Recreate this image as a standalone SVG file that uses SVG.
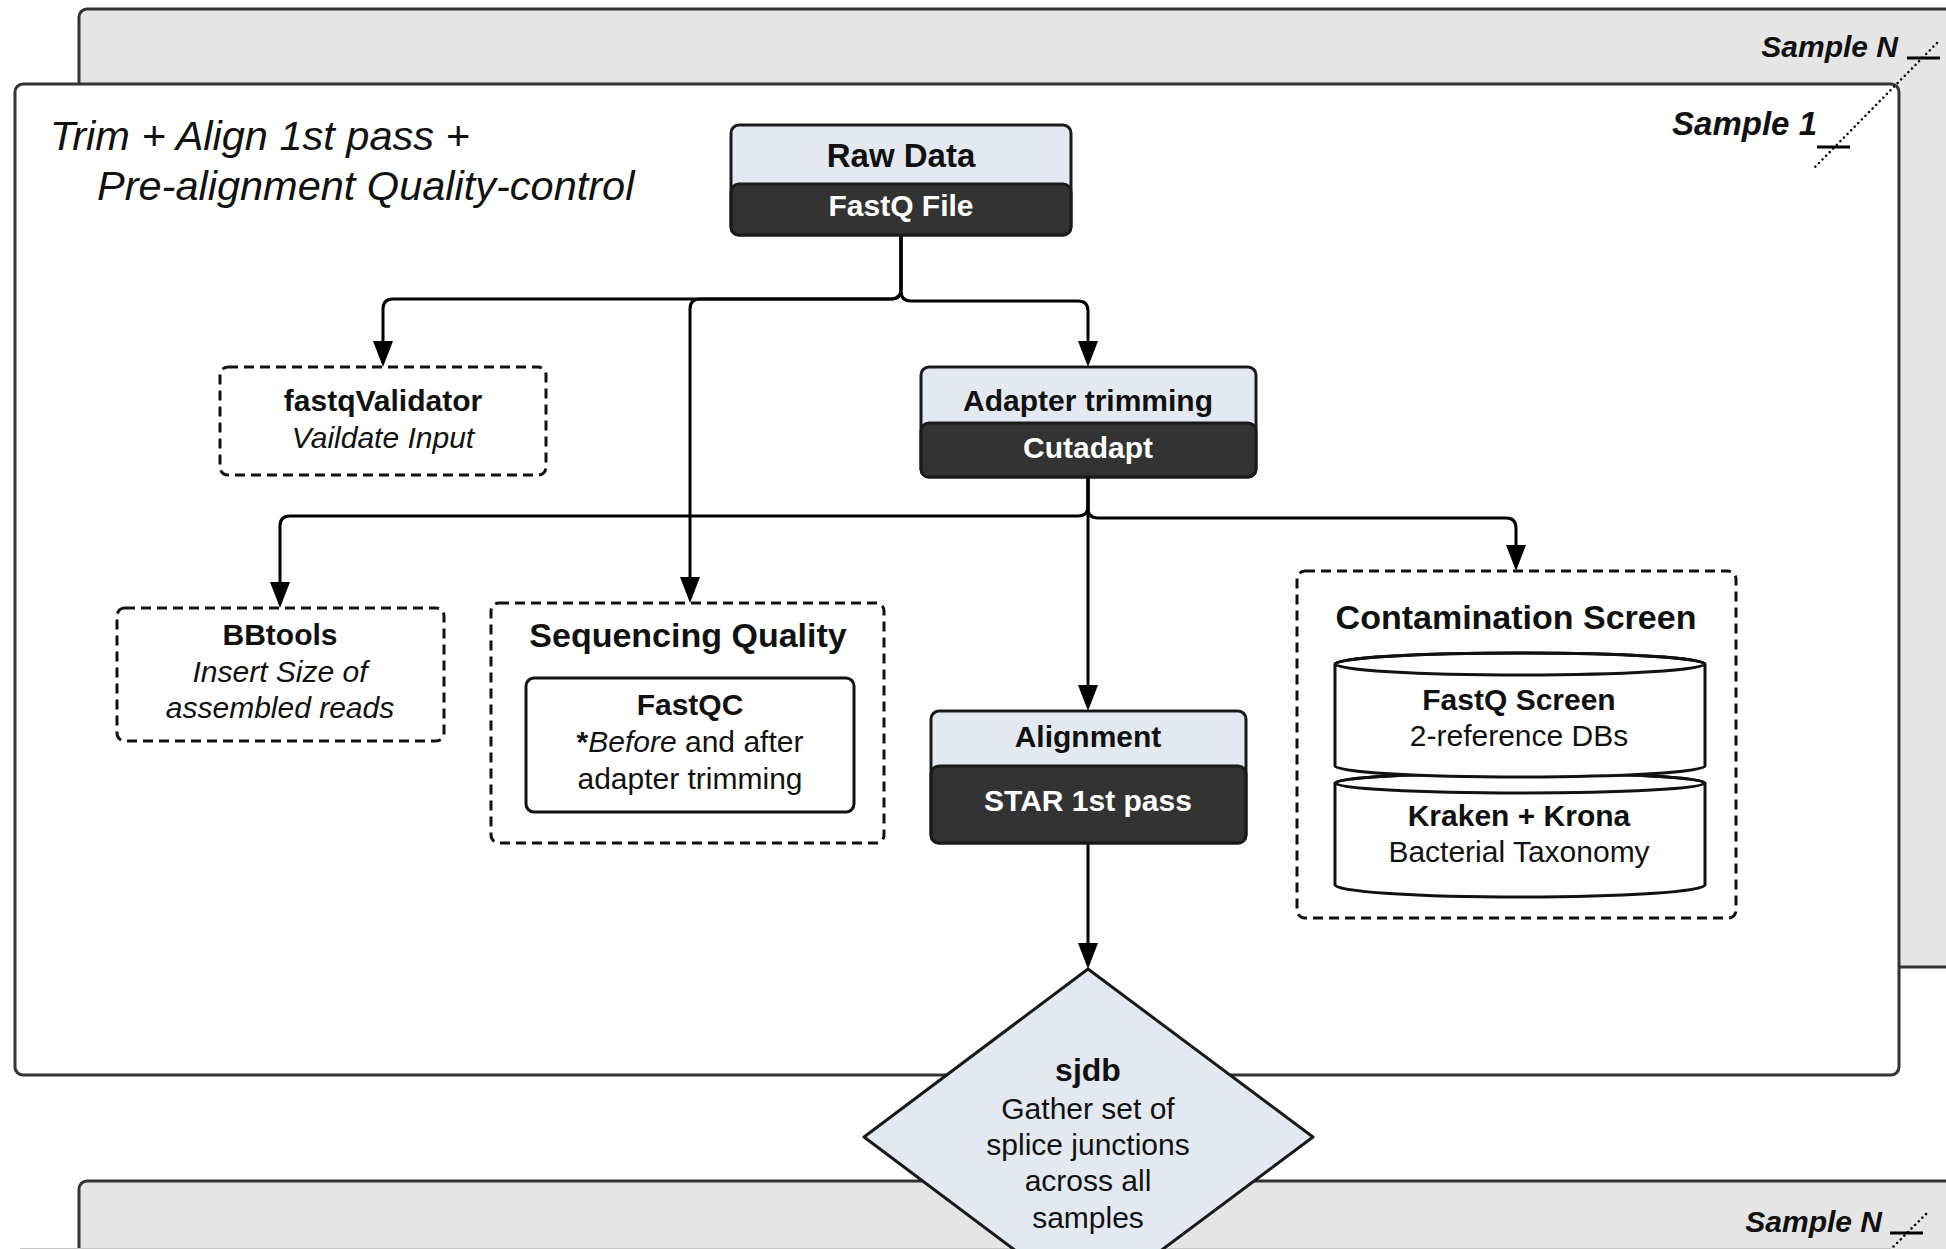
<svg xmlns="http://www.w3.org/2000/svg" width="1946" height="1249" viewBox="0 0 1946 1249">
<defs>
<style>
text{font-family:"Liberation Sans",Arial,sans-serif;fill:#111}
.t30{font-size:30px}
.b{font-weight:bold}
.i{font-style:italic}
.w{fill:#fff}
.panel{fill:#e5e5e5;stroke:#333;stroke-width:3}
.light{fill:#e4e8f0;stroke:#1a1a1a;stroke-width:3}
.dark{fill:#333;stroke:#1a1a1a;stroke-width:3}
.dash{fill:#fff;stroke:#111;stroke-width:3;stroke-dasharray:10 6}
.solid{fill:#fff;stroke:#111;stroke-width:3}
.conn{fill:none;stroke:#000;stroke-width:3}
.dot{fill:none;stroke:#000;stroke-width:2.5;stroke-dasharray:0.1 5;stroke-linecap:round}
.ul{stroke:#000;stroke-width:3}
</style>
<marker id="arr" markerUnits="userSpaceOnUse" markerWidth="26" markerHeight="20" refX="6" refY="10" orient="auto">
<path d="M0,0 L26,10 L0,20 Z" fill="#000"/>
</marker>
</defs>
<rect width="1946" height="1249" fill="#fff"/>

<g id="panel-sampleN-top">
<rect class="panel" x="79" y="9" width="1900" height="958" rx="8"/>
<text class="b i" x="1898" y="57" font-size="30" text-anchor="end">Sample N</text>
<line class="ul" x1="1907" y1="58" x2="1940" y2="58"/>
</g>

<g id="panel-sampleN-bottom">
<rect class="panel" x="79" y="1181" width="1900" height="200" rx="8"/>
<line x1="20" y1="1248.5" x2="1890" y2="1248.5" stroke="#c8c8c8" stroke-width="1"/>
<text class="b i" x="1882" y="1232" font-size="30" text-anchor="end">Sample N</text>
<line class="ul" x1="1890" y1="1233" x2="1923" y2="1233"/>
<line class="dot" x1="1926" y1="1214" x2="1886" y2="1254"/>
</g>

<g id="panel-sample1">
<rect x="15" y="84" width="1884" height="991" rx="8" fill="#fff" stroke="#333" stroke-width="3"/>
<text class="i" x="50" y="150" font-size="41.5">Trim + Align 1st pass +</text>
<text class="i" x="97" y="200" font-size="41.5">Pre-alignment Quality-control</text>
<text class="b i" x="1817" y="135" font-size="33" text-anchor="end">Sample 1</text>
<line class="ul" x1="1817" y1="147" x2="1850" y2="147"/>
<line class="dot" x1="1937" y1="43" x2="1814" y2="168"/>
</g>

<g id="connectors">
<path class="conn" d="M901,235 V289 Q901,299 891,299 H393 Q383,299 383,309 V347" marker-end="url(#arr)"/>
<path class="conn" d="M901,235 V289 Q901,299 891,299 H700 Q690,299 690,309 V583" marker-end="url(#arr)"/>
<path class="conn" d="M901,235 V291 Q901,301 911,301 H1078 Q1088,301 1088,311 V347" marker-end="url(#arr)"/>
<path class="conn" d="M1088,477 V506 Q1088,516 1078,516 H290 Q280,516 280,526 V588" marker-end="url(#arr)"/>
<path class="conn" d="M1088,477 V691" marker-end="url(#arr)"/>
<path class="conn" d="M1088,477 V508 Q1088,518 1098,518 H1506 Q1516,518 1516,528 V551" marker-end="url(#arr)"/>
<path class="conn" d="M1088,843 V949" marker-end="url(#arr)"/>
</g>

<g id="node-rawdata">
<rect class="light" x="731" y="125" width="340" height="110" rx="8"/>
<rect class="dark" x="731" y="184" width="340" height="51" rx="8"/>
<text class="b" x="901" y="167" font-size="33" text-anchor="middle">Raw Data</text>
<text class="b w t30" x="901" y="216" text-anchor="middle">FastQ File</text>
</g>

<g id="node-fastqvalidator">
<rect class="dash" x="220" y="367" width="326" height="108" rx="8"/>
<text class="b t30" x="383" y="411" text-anchor="middle">fastqValidator</text>
<text class="i t30" x="383" y="448" text-anchor="middle">Vaildate Input</text>
</g>

<g id="node-adapter">
<rect class="light" x="921" y="367" width="335" height="110" rx="8"/>
<rect class="dark" x="921" y="423" width="335" height="54" rx="8"/>
<text class="b t30" x="1088" y="411" text-anchor="middle">Adapter trimming</text>
<text class="b w t30" x="1088" y="458" text-anchor="middle">Cutadapt</text>
</g>

<g id="node-bbtools">
<rect class="dash" x="117" y="608" width="327" height="133" rx="8"/>
<text class="b t30" x="280" y="645" text-anchor="middle">BBtools</text>
<text class="i t30" x="280" y="682" text-anchor="middle">Insert Size of</text>
<text class="i t30" x="280" y="718" text-anchor="middle">assembled reads</text>
</g>

<g id="node-seqquality">
<rect class="dash" x="491" y="603" width="393" height="240" rx="8"/>
<text class="b" x="688" y="647" font-size="34" text-anchor="middle">Sequencing Quality</text>
<rect class="solid" x="526" y="678" width="328" height="134" rx="8"/>
<text class="b t30" x="690" y="715" text-anchor="middle">FastQC</text>
<text class="t30" x="690" y="752" text-anchor="middle"><tspan class="b">*</tspan><tspan class="i">Before</tspan> and after</text>
<text class="t30" x="690" y="789" text-anchor="middle">adapter trimming</text>
</g>

<g id="node-alignment">
<rect class="light" x="931" y="711" width="315" height="132" rx="8"/>
<rect class="dark" x="931" y="766" width="315" height="77" rx="8"/>
<text class="b t30" x="1088" y="747" text-anchor="middle">Alignment</text>
<text class="b w t30" x="1088" y="811" text-anchor="middle">STAR 1st pass</text>
</g>

<g id="node-contamination">
<rect class="dash" x="1297" y="571" width="439" height="347" rx="8"/>
<text class="b" x="1516" y="629" font-size="34" text-anchor="middle">Contamination Screen</text>
<g id="db-kraken">
<path class="solid" d="M1335,783 A185,10 0 0 1 1705,783 V885 A185,12 0 0 1 1335,885 Z"/>
<ellipse cx="1520" cy="783" rx="185" ry="10" fill="none" stroke="#111" stroke-width="3"/>
<text class="b t30" x="1519" y="826" text-anchor="middle">Kraken + Krona</text>
<text class="t30" x="1519" y="862" text-anchor="middle">Bacterial Taxonomy</text>
</g>
<g id="db-fastqscreen">
<path class="solid" d="M1335,664 A185,11 0 0 1 1705,664 V766 A185,11 0 0 1 1335,766 Z"/>
<ellipse cx="1520" cy="664" rx="185" ry="11" fill="none" stroke="#111" stroke-width="3"/>
<text class="b t30" x="1519" y="710" text-anchor="middle">FastQ Screen</text>
<text class="t30" x="1519" y="746" text-anchor="middle">2-reference DBs</text>
</g>
</g>

<g id="node-sjdb">
<path class="light" d="M1088,969 L1313,1137 L1088,1305 L864,1137 Z" stroke-linejoin="round"/>
<text class="b" x="1088" y="1081" font-size="32" text-anchor="middle">sjdb</text>
<text class="t30" x="1088" y="1119" text-anchor="middle">Gather set of</text>
<text class="t30" x="1088" y="1155" text-anchor="middle">splice junctions</text>
<text class="t30" x="1088" y="1191" text-anchor="middle">across all</text>
<text class="t30" x="1088" y="1228" text-anchor="middle">samples</text>
</g>
</svg>
